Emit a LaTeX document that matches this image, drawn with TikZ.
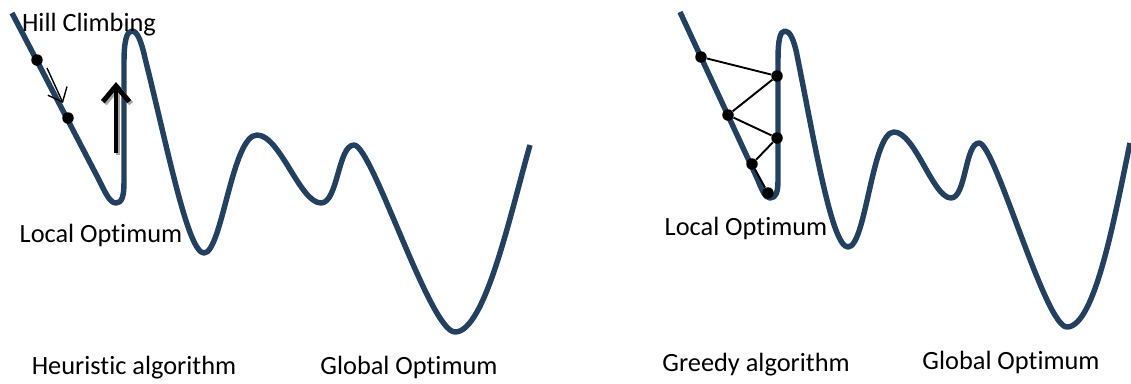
\documentclass[tikz,border=0pt]{standalone}
\usepackage{fontspec}
\setmainfont{Carlito}[Ligatures={NoCommon,NoRequired,NoContextual}]
\usetikzlibrary{
    arrows.meta
}
\definecolor{CurveBlue}{HTML}{24405F}
\definecolor{ShadowGray}{HTML}{A6A6A6}

\begin{document}
\begin{tikzpicture}[
                x=0.02cm,
                y=-0.02cm,
                every node/.style={align=center},
                textlabel/.style={font=\fontsize{15}{18}\selectfont, inner sep=0pt},
                dot/.style={circle, fill=black, inner sep=0pt, minimum size=0.23cm},
                landscape/.style={line width=3.1pt, draw=CurveBlue, line join=round}
            ]

                \useasboundingbox (0,0) rectangle (1131,383);


                \draw[landscape]
                    (12,13) -- (98,178)
                    .. controls (106,194) and (110,203) .. (116,203)
                    .. controls (122,203) and (124,196) .. (124,182)
                    -- (124,62)
                    .. controls (124,40) and (127,31) .. (132,31)
                    .. controls (137,31) and (141,40) .. (145,58)
                    .. controls (168,150) and (188,253) .. (204,253)
                    .. controls (222,253) and (232,135) .. (257,135)
                    .. controls (280,135) and (300,203) .. (321,203)
                    .. controls (338,203) and (338,145) .. (354,145)
                    .. controls (372,145) and (430,332) .. (455,332)
                    .. controls (485,332) and (510,215) .. (530,145);


                \draw[landscape]
                    (680,12) -- (757,178)
                    .. controls (762,190) and (765,198) .. (770,198)
                    .. controls (776,198) and (778,192) .. (778,180)
                    -- (778,60)
                    .. controls (778,40) and (780,31) .. (785,31)
                    .. controls (790,31) and (794,40) .. (797,55)
                    .. controls (815,145) and (832,247) .. (848,247)
                    .. controls (866,247) and (872,132) .. (894,132)
                    .. controls (915,132) and (933,198) .. (951,198)
                    .. controls (966,198) and (965,143) .. (979,143)
                    .. controls (995,143) and (1045,327) .. (1067,327)
                    .. controls (1095,327) and (1115,215) .. (1130,143);


                \node[textlabel] (hill) at (89,25) {Hill Climbing};

                \node[textlabel] (localleft) at (101,235) {Local Optimum};

                \node[textlabel] (heuristic) at (134,368) {Heuristic algorithm};

                \node[textlabel] (globalleft) at (409,367) {Global Optimum};

                \node[textlabel] (localright) at (746,228) {Local Optimum};

                \node[textlabel] (greedy) at (756,365) {Greedy algorithm};

                \node[textlabel] (globalright) at (1011,362) {Global Optimum};


                \node[dot] (start) at (37,60) {};
                \node[dot] (next) at (68,118) {};

                \coordinate (stepfrom) at (47,68);
                \coordinate (stepto) at (63,103);

                \coordinate (climbfrom) at (116,153);
                \coordinate (climbto) at (116,82);

                \draw[-{Straight Barb[length=7pt,width=12pt]}, line width=0.8pt]
                    (stepfrom) -- (stepto);

                \draw[-{Straight Barb[length=9pt,width=15pt]}, line width=2.8pt, ShadowGray]
                    ([shift={(2,2)}]climbfrom) -- ([shift={(2,2)}]climbto);

                \draw[-{Straight Barb[length=9pt,width=15pt]}, line width=2.8pt]
                    (climbfrom) -- (climbto);


                \node[dot] (g1) at (701,57) {};
                \node[dot] (g2) at (777,76) {};
                \node[dot] (g3) at (728,115) {};
                \node[dot] (g4) at (777,138) {};
                \node[dot] (g5) at (752,164) {};
                \node[dot] (g6) at (768,193) {};

                \draw[line width=1.1pt]
                    (g1) -- (g2) -- (g3) -- (g4) -- (g5) -- (g6);

            \end{tikzpicture}
\end{document}
